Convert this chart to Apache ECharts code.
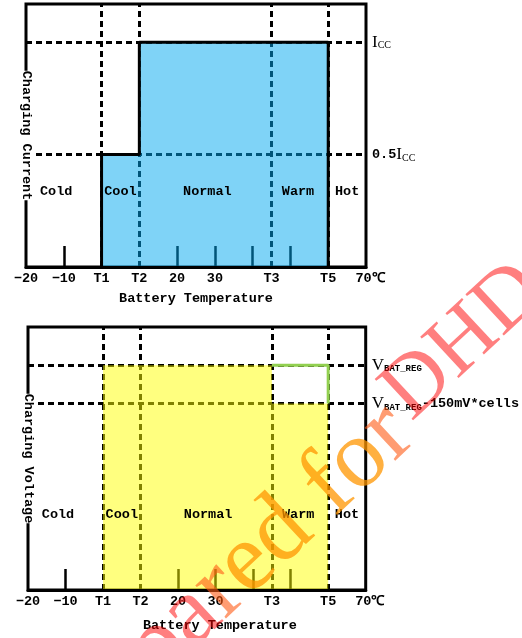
<!DOCTYPE html>
<html>
<head>
<meta charset="utf-8">
<script src="https://cdn.jsdelivr.net/npm/echarts@6/dist/echarts.min.js"></script>
<style>html,body{margin:0;padding:0;background:#fff}#c{width:522px;height:638px}</style>
</head>
<body>
<div id="c"></div>
<script>
// ---- data ----
const xMin = -20, xMax = 70, yMax = 1.17;
const xLabelValues = [-20, -10, 0, 10, 20, 30, 45, 60, 70];
const xLabelTexts = ['−20', '−10', 'T1', 'T2', '20', '30', 'T3', 'T5', ' 70℃'];
const xTickValues = [-10, 20, 30, 40, 50];
const thresholdX = [0, 10, 45, 60];            // T1, T2, T3, T5
const currentLevels = [0.5, 1];                 // 0.5Icc, Icc
const currentLevelLabels = ['{m|0.5}{s|I}{sub|CC}', '{s|I}{sub|CC}'];
const currentStepX = [0, 0, 10, 10, 60, 60];
const currentStepY = [0, 0.5, 0.5, 1, 1, 0];
const voltageLevels = [0.83, 1];                // VBAT_REG-150mV*cells, VBAT_REG
const voltageLevelLabels = ['{v|V}{sub2|BAT_REG}{m|-150mV*cells}', '{v|V}{sub2|BAT_REG}'];
const voltageStepX = [0, 0, 45, 45, 60, 60];
const voltageStepY = [0, 1, 1, 0.83, 0.83, 0];
const voltageCutX = [45, 60, 60];
const voltageCutY = [1, 1, 0.83];
const regionNames = ['Cold', 'Cool', 'Normal', 'Warm', 'Hot'];
const regionX = [-12, 5, 28, 52, 65];
const regionY = 0.335;

// ---- styles ----
const MONO = "'Liberation Mono', 'DejaVu Sans Mono', monospace";
const SERIF = "'Liberation Serif', serif";
const FS = 13.5;
const richStyles = {
  m: { fontFamily: MONO, fontWeight: 'bold', fontSize: FS, color: '#000' },
  s: { fontFamily: SERIF, fontSize: 17, color: '#000' },
  sub: { fontFamily: SERIF, fontSize: 10, color: '#000', verticalAlign: 'bottom', padding: [6, 0, 0, 0] },
  v: { fontFamily: SERIF, fontSize: 17, color: '#000' },
  sub2: { fontFamily: MONO, fontWeight: 'bold', fontSize: 9, color: '#000', verticalAlign: 'bottom', padding: [6, 0, 0, 0] }
};
const zip = (xs, ys) => xs.map((x, i) => [x, ys[i]]);

function labelXAxis(gi, nameGap, namePad) {
  return {
    type: 'value', gridIndex: gi, min: xMin, max: xMax, position: 'bottom',
    axisLine: { show: false }, splitLine: { show: false },
    axisTick: { show: true, inside: true, length: 21, customValues: xTickValues, lineStyle: { color: '#000', width: 2.5 } },
    axisLabel: {
      customValues: xLabelValues, margin: 5, color: '#000', fontFamily: MONO, fontWeight: 'bold', fontSize: FS,
      formatter: v => xLabelTexts[xLabelValues.indexOf(v)]
    },
    name: 'Battery Temperature', nameLocation: 'middle', nameGap: nameGap,
    nameTextStyle: { color: '#000', fontFamily: MONO, fontWeight: 'bold', fontSize: FS, padding: namePad }
  };
}
function frameXAxis(gi) {
  return {
    type: 'value', gridIndex: gi, min: xMin, max: xMax, position: 'bottom', z: 10,
    axisLine: { show: true, lineStyle: { color: '#000', width: 3 } },
    axisTick: { show: false }, axisLabel: { show: false }, splitLine: { show: false }
  };
}
function rightYAxis(gi, vals, texts) {
  return {
    type: 'value', gridIndex: gi, min: 0, max: yMax, position: 'right',
    axisLine: { show: false }, axisTick: { show: false }, splitLine: { show: false },
    axisLabel: {
      customValues: vals, margin: 6, color: '#000',
      formatter: v => texts[vals.indexOf(v)], rich: richStyles
    }
  };
}
function leftYAxis(gi, name) {
  return {
    type: 'value', gridIndex: gi, min: 0, max: yMax, position: 'left', z: 5,
    axisLine: { show: false }, axisTick: { show: false }, axisLabel: { show: false }, splitLine: { show: false },
    name: name, nameLocation: 'middle', nameRotate: -90, nameGap: -7,
    nameTextStyle: { color: '#000', fontFamily: MONO, fontWeight: 'bold', fontSize: FS, backgroundColor: '#fff' }
  };
}
function dashSeries(xi, yi, levels) {
  return {
    type: 'line', xAxisIndex: xi, yAxisIndex: yi, data: [], z: 1, silent: true,
    markLine: {
      z: 1, symbol: 'none', silent: true, animation: false, label: { show: false },
      lineStyle: { color: '#000', type: [6, 4], width: 3 },
      emphasis: { disabled: true },
      data: thresholdX.map(x => ({ xAxis: x })).concat(levels.map(y => ({ yAxis: y })))
    }
  };
}
function fillSeries(xi, yi, data, color) {
  return {
    type: 'line', xAxisIndex: xi, yAxisIndex: yi, data: data, symbol: 'none', z: 2, silent: true,
    lineStyle: { width: 0 }, areaStyle: { color: color, opacity: 1 }
  };
}
function outlineSeries(xi, yi, data, color) {
  return {
    type: 'line', xAxisIndex: xi, yAxisIndex: yi, data: data, symbol: 'none', z: 3, silent: true,
    lineStyle: { width: 3, color: color }
  };
}
function regionSeries(xi, yi) {
  return {
    type: 'scatter', xAxisIndex: xi, yAxisIndex: yi, z: 4, symbolSize: 0.1, silent: true,
    itemStyle: { color: '#000', opacity: 1 },
    label: {
      show: true, position: 'inside', color: '#000', opacity: 1, textBorderWidth: 0,
      fontFamily: MONO, fontWeight: 'bold', fontSize: FS, formatter: p => p.name
    },
    data: regionX.map((x, i) => ({ name: regionNames[i], value: [x, regionY] }))
  };
}

const chart = echarts.init(document.getElementById('c'), null, { renderer: 'canvas' });
const WM_LOW = "98px 'Liberation Serif'";
const WM_CAP = "86px 'Liberation Serif'";
const WM_ROT = 43 * Math.PI / 180;
const RED = 'rgba(255,0,0,0.5)', MID = 'rgba(255,90,20,0.6)', ORANGE = 'rgba(255,150,0,0.75)';
chart.setOption({
  animation: false,
  backgroundColor: '#fff',
  grid: [
    { left: 26, top: 4, width: 340, height: 263, show: true, borderColor: '#000', borderWidth: 3, backgroundColor: 'transparent' },
    { left: 28, top: 327, width: 339, height: 263, show: true, borderColor: '#000', borderWidth: 3, backgroundColor: 'transparent' }
  ],
  xAxis: [labelXAxis(0, 25, [0, 0, 0, 0]), frameXAxis(0), labelXAxis(1, 29, [0, 0, 0, 46]), frameXAxis(1)],
  yAxis: [
    rightYAxis(0, currentLevels, currentLevelLabels), leftYAxis(0, 'Charging Current'),
    rightYAxis(1, voltageLevels, voltageLevelLabels), leftYAxis(1, 'Charging Voltage')
  ],
  series: [
    dashSeries(0, 0, currentLevels),
    fillSeries(0, 0, zip(currentStepX, currentStepY), 'rgba(0,168,240,0.5)'),
    outlineSeries(0, 0, zip(currentStepX, currentStepY), '#000'),
    regionSeries(0, 0),
    dashSeries(2, 2, voltageLevels),
    fillSeries(2, 2, zip(voltageStepX, voltageStepY), 'rgba(255,255,0,0.5)'),
    outlineSeries(2, 2, zip(voltageCutX, voltageCutY), '#92d050'),
    regionSeries(2, 2)
  ],
  graphic: [
    {
      type: 'text', x: 400, y: 421, rotation: WM_ROT, z: 100, silent: true,
      style: {
        text: '{r|Prepa}{ro|r}{o|ed fo}{ro|r}',
        align: 'right', verticalAlign: 'middle', font: WM_LOW,
        rich: {
          r: { fill: RED, font: WM_LOW },
          ro: { fill: MID, font: WM_LOW },
          o: { fill: ORANGE, font: WM_LOW }
        }
      }
    },
    {
      type: 'text', x: 464, y: 342, rotation: WM_ROT, z: 100, silent: true,
      style: { text: 'DHD', align: 'center', verticalAlign: 'middle', font: WM_CAP, fill: RED }
    }
  ]
});
</script>
</body>
</html>
